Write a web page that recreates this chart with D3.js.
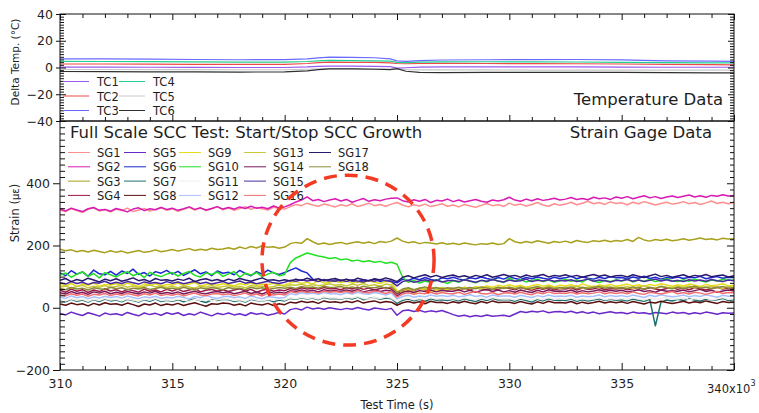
<!DOCTYPE html>
<html><head><meta charset="utf-8">
<script src="https://cdn.jsdelivr.net/npm/d3@7"></script>
<style>
body{margin:0;background:#fff}
svg{display:block}
text{font-family:"DejaVu Sans",sans-serif;fill:#1e1e1e}
</style>
</head><body>
<svg id="c" width="759" height="413"></svg>
<script>
// ---------------- DATA ----------------
const time = [310,310.25,310.5,310.75,311,311.25,311.5,311.75,312,312.25,
  312.5,312.75,313,313.25,313.5,313.75,314,314.25,314.5,314.75,
  315,315.25,315.5,315.75,316,316.25,316.5,316.75,317,317.25,
  317.5,317.75,318,318.25,318.5,318.75,319,319.25,319.5,319.75,
  320,320.25,320.5,320.75,321,321.25,321.5,321.75,322,322.25,
  322.5,322.75,323,323.25,323.5,323.75,324,324.25,324.5,324.75,
  325,325.25,325.5,325.75,326,326.25,326.5,326.75,327,327.25,
  327.5,327.75,328,328.25,328.5,328.75,329,329.25,329.5,329.75,
  330,330.25,330.5,330.75,331,331.25,331.5,331.75,332,332.25,
  332.5,332.75,333,333.25,333.5,333.75,334,334.25,334.5,334.75,
  335,335.25,335.5,335.75,336,336.25,336.5,336.75,337,337.25,
  337.5,337.75,338,338.25,338.5,338.75,339,339.25,339.5,339.75,
  340];

const sgNames = ["SG1","SG2","SG3","SG4","SG5","SG6","SG7","SG8","SG9","SG10","SG11","SG12","SG13","SG14","SG15","SG16","SG17","SG18"];
const sgColors = ["#ff8f8f","#d81ab4","#a8a01c","#9a1848","#6a28c8","#1a28d0","#1f6f6f","#5a1010","#e6dc1e","#22e022","#f2eee8","#a8c0ff","#c8c838","#7a1a5a","#4a2a9a","#f07070","#28186e","#8a8a3a"];

const sg1 = [314,309,318,312,306,316,321,311,315,308,
  317,312,320,309,314,319,311,316,322,313,
  318,310,316,323,314,320,312,318,324,315,
  321,313,319,325,316,322,318,314,323,319,
  317,325,332,328,336,330,326,333,329,324,
  331,327,334,325,330,336,328,332,326,333,
  338,330,324,331,327,333,325,329,334,326,
  330,324,332,327,323,329,335,328,331,326,
  336,329,333,327,332,338,330,326,334,329,
  333,339,331,336,342,334,338,332,340,335,
  337,331,339,334,341,336,330,335,339,333,
  336,341,334,338,332,337,343,335,339,334,
  338];
const sg2 = [317,311,320,314,309,318,322,313,316,310,
  319,314,308,317,321,312,318,315,322,316,
  320,313,318,324,316,321,314,319,325,317,
  322,317,324,319,326,320,323,318,327,321,
  324,331,340,346,356,344,348,341,346,350,
  343,348,339,345,351,342,347,344,349,352,
  353,344,340,347,342,348,338,345,343,349,
  341,346,340,344,348,342,339,346,343,347,
  355,346,342,349,344,350,345,348,352,346,
  349,354,348,351,347,355,350,353,348,356,
  352,357,350,355,360,353,357,351,356,359,
  354,358,362,356,360,355,361,358,363,359,
  361];
const sg3 = [188,183,186,180,184,179,185,181,177,183,
  178,182,176,180,184,178,181,186,180,183,
  187,182,186,190,184,188,185,191,187,189,
  193,188,195,190,197,192,199,194,196,191,
  195,206,210,207,222,212,204,208,203,207,
  210,205,209,212,207,211,206,213,210,214,
  224,214,209,212,206,210,208,205,209,204,
  207,203,208,205,202,206,204,208,203,206,
  222,212,208,213,209,215,211,207,213,210,
  214,209,216,212,210,215,213,217,212,216,
  214,219,213,226,218,214,219,216,220,215,
  218,222,217,220,224,219,222,218,223,221,
  222];
const sg4 = [56,50,60,53,58,49,57,52,61,54,
  58,51,59,55,50,60,53,57,51,59,
  54,60,52,57,62,51,56,59,53,58,
  52,57,61,54,59,50,56,60,53,57,
  55,62,58,64,60,63,59,65,61,62,
  58,64,60,66,59,63,57,62,65,60,
  45,56,60,55,62,58,64,59,63,57,
  61,56,63,58,65,60,57,62,59,64,
  62,58,65,60,56,63,59,64,58,62,
  60,64,57,63,59,61,65,58,62,60,
  63,58,61,66,59,64,60,57,62,65,
  59,63,58,64,61,57,62,66,60,63,
  61];
const sg5 = [-18,-23,-14,-20,-25,-16,-21,-27,-17,-22,
  -19,-24,-15,-21,-26,-17,-22,-18,-24,-16,
  -21,-16,-25,-19,-23,-14,-20,-26,-18,-22,
  -17,-23,-19,-25,-16,-21,-18,-24,-20,-15,
  -20,-6,-2,-7,2,-4,-1,-5,0,-3,
  -6,-2,-5,1,-4,-7,-1,-3,-6,-2,
  -24,-10,-7,-12,-8,-14,-10,-13,-9,-15,
  -22,-27,-24,-29,-25,-28,-23,-27,-26,-24,
  -28,-20,-12,-15,-11,-14,-10,-16,-13,-12,
  -15,-11,-17,-13,-18,-14,-19,-16,-13,-17,
  -15,-19,-14,-18,-16,-20,-15,-17,-19,-14,
  -18,-15,-20,-16,-19,-14,-17,-21,-16,-18,
  -17];
const sg6 = [112,103,119,108,115,101,121,109,106,117,
  105,118,110,124,107,113,102,116,111,120,
  108,117,104,113,122,109,115,103,118,111,
  114,106,120,110,103,116,108,121,112,107,
  113,121,128,118,112,92,86,90,84,89,
  85,91,87,83,90,86,92,84,88,85,
  80,92,88,95,90,97,91,87,96,93,
  98,92,89,96,93,99,94,90,97,92,
  100,94,91,97,93,99,95,92,98,94,
  96,101,93,99,95,92,98,94,100,96,
  97,93,99,95,101,94,98,92,97,95,
  99,94,98,96,101,93,97,100,95,98,
  97];
const sg7 = [24,19,27,21,25,18,26,20,28,22,
  25,19,27,23,18,26,21,28,20,24,
  21,26,19,24,28,22,17,25,23,27,
  26,20,24,18,27,23,21,26,19,25,
  22,30,27,32,28,31,26,33,29,30,
  27,32,28,34,26,30,33,27,31,29,
  14,24,28,22,27,20,29,24,26,23,
  27,22,29,24,20,28,23,30,25,26,
  26,21,28,23,18,27,22,29,24,25,
  23,28,21,26,22,25,29,23,27,24,
  26,22,28,24,21,27,-58,18,25,22,
  27,23,29,25,21,28,24,26,30,23,
  26];
const sg8 = [12,8,15,10,13,6,14,9,16,11,
  13,8,15,10,4,12,9,15,7,12,
  9,14,7,12,16,10,5,13,11,15,
  14,8,12,6,15,11,9,14,7,13,
  10,18,15,21,17,20,14,22,18,19,
  16,21,17,23,15,19,22,16,20,18,
  8,16,20,15,19,13,21,17,18,14,
  19,15,21,16,13,20,15,22,17,18,
  18,14,20,15,12,19,14,21,16,17,
  15,20,13,18,14,17,21,15,19,16,
  19,14,20,16,12,18,15,21,17,14,
  17,21,15,19,16,22,18,14,20,17,
  18];
const sg9 = [74,70,78,68,76,72,80,69,75,73,
  77,71,79,74,68,76,72,78,70,75,
  73,79,71,76,81,70,74,78,72,77,
  75,70,78,73,80,71,76,74,79,72,
  73,80,84,78,82,76,88,79,83,85,
  81,86,79,84,80,87,82,78,85,83,
  55,50,58,46,55,62,52,58,54,60,
  62,57,66,61,68,64,70,66,72,68,
  74,68,72,66,71,75,69,73,67,72,
  70,74,68,76,71,67,73,70,75,69,
  72,76,70,74,68,75,71,77,73,69,
  74,70,76,72,68,75,71,73,77,70,
  72];
const sg10 = [104,112,98,108,115,101,110,96,113,106,
  99,109,116,103,111,97,114,105,100,108,
  113,102,110,117,104,99,112,107,115,101,
  109,116,98,111,105,113,100,108,114,103,
  107,145,160,168,176,171,166,163,158,161,
  154,157,150,153,148,151,146,149,143,146,
  140,98,82,88,79,86,81,90,84,78,
  87,82,91,85,80,88,83,92,86,81,
  96,85,90,83,88,92,84,89,82,87,
  91,85,89,83,93,86,81,88,84,90,
  86,92,83,89,85,91,84,88,93,86,
  84,90,85,92,87,83,89,86,91,88,
  89];
const sg11 = [26,22,29,24,27,21,28,23,30,25,
  27,22,29,25,21,28,24,30,23,26,
  23,28,25,20,27,24,30,22,26,29,
  28,23,26,21,29,25,22,27,24,28,
  25,32,29,34,30,33,28,35,31,32,
  29,34,31,36,30,28,33,30,35,31,
  20,28,31,26,30,27,32,28,30,27,
  30,26,32,28,25,31,27,33,29,28,
  29,25,31,27,24,30,26,32,27,29,
  27,31,25,29,26,28,32,26,30,27,
  30,26,32,28,25,31,27,29,33,28,
  28,32,26,30,27,31,25,29,33,27,
  29];
const sg12 = [34,30,38,32,36,29,35,31,37,33,
  36,31,38,33,29,35,32,37,30,34,
  31,37,33,28,36,32,39,34,30,35,
  37,32,35,30,38,33,29,36,34,31,
  33,46,42,48,44,47,43,49,45,46,
  42,48,44,50,45,43,49,46,41,47,
  28,36,40,34,38,35,41,37,39,36,
  40,35,38,42,36,39,34,41,37,38,
  38,34,40,36,33,39,35,41,36,38,
  36,40,34,38,35,37,41,35,39,36,
  39,35,41,37,33,40,36,42,38,35,
  37,41,35,39,36,42,38,34,40,37,
  38];
const sg13 = [66,70,63,68,72,64,69,66,71,65,
  68,72,66,70,64,69,73,67,70,65,
  69,64,71,67,63,70,66,72,65,68,
  71,66,69,64,72,67,70,65,68,73,
  68,74,72,76,70,75,71,73,77,72,
  75,70,76,72,78,71,74,69,76,73,
  50,58,62,56,64,60,66,62,65,61,
  63,59,66,61,64,60,67,62,65,63,
  66,62,68,64,60,67,63,69,65,62,
  67,64,70,63,66,69,64,68,65,67,
  64,68,62,67,70,65,63,69,66,64,
  68,65,70,63,67,64,69,66,62,68,
  66];
const sg14 = [48,44,52,46,50,43,51,47,53,45,
  50,46,52,48,44,51,47,53,45,49,
  46,51,44,49,53,47,45,50,52,48,
  51,45,49,53,46,50,44,52,47,50,
  47,55,52,57,53,56,51,58,54,55,
  52,57,53,59,51,55,58,52,56,54,
  38,50,54,49,55,52,57,51,56,53,
  53,58,51,56,50,55,59,52,57,51,
  55,50,57,52,49,56,51,58,53,54,
  52,57,50,55,51,54,58,52,56,53,
  56,51,54,58,52,55,50,57,53,55,
  53,57,51,55,59,52,56,50,54,57,
  54];
const sg15 = [80,76,84,78,82,75,81,79,85,77,
  82,78,84,80,76,83,79,81,77,84,
  79,83,77,81,85,78,82,76,80,84,
  78,82,86,79,83,77,81,85,80,78,
  82,88,85,90,86,89,84,91,87,85,
  89,84,90,86,83,88,85,91,87,84,
  70,84,88,82,86,90,85,89,83,87,
  88,84,90,86,82,88,85,91,86,83,
  89,85,87,92,84,88,86,90,85,88,
  86,90,84,88,92,85,89,87,83,88,
  87,91,85,89,84,88,92,86,90,85,
  88,84,90,86,89,85,91,87,84,89,
  87];
const sg16 = [42,38,45,40,44,37,43,41,46,39,
  44,40,46,42,38,45,41,47,39,43,
  40,45,38,43,47,41,39,44,46,42,
  45,39,43,47,40,44,38,46,41,44,
  41,52,48,53,49,51,47,54,50,52,
  49,53,47,55,50,48,54,51,46,52,
  34,44,48,43,47,45,50,44,49,46,
  45,50,43,48,52,46,44,49,42,47,
  48,44,50,45,42,49,45,51,46,47,
  46,50,44,48,45,47,51,45,49,46,
  49,45,51,46,43,50,47,44,48,52,
  45,49,44,50,47,43,48,52,46,49,
  48];
const sg17 = [88,94,84,91,86,95,89,83,92,87,
  93,85,90,96,87,91,84,94,88,90,
  86,92,88,95,84,90,93,87,91,85,
  92,87,94,89,85,91,96,88,90,86,
  90,86,92,88,95,89,93,87,91,94,
  88,92,86,95,90,87,93,89,96,91,
  84,98,103,96,101,106,99,104,97,102,
  105,99,103,97,104,100,106,98,102,107,
  101,104,98,105,100,103,107,99,104,101,
  106,100,104,98,103,107,101,105,99,103,
  104,99,106,101,97,103,108,100,104,98,
  102,106,99,104,101,107,100,103,105,99,
  103];
const sg18 = [62,58,65,60,63,57,64,61,59,66,
  61,64,58,63,60,65,59,62,66,60,
  63,59,66,61,57,64,60,65,62,58,
  65,60,63,58,66,61,64,59,62,65,
  63,66,62,68,64,67,63,69,65,66,
  68,63,67,62,69,65,64,68,63,67,
  48,60,64,58,63,67,61,65,59,64,
  62,66,60,65,61,67,63,59,66,62,
  66,61,65,60,64,68,62,66,61,65,
  63,67,61,66,62,65,68,63,66,62,
  65,61,67,63,60,66,62,68,64,61,
  66,62,65,69,63,67,61,65,68,63,
  65];
const sgValues = [sg1,sg2,sg3,sg4,sg5,sg6,sg7,sg8,sg9,sg10,sg11,sg12,sg13,sg14,sg15,sg16,sg17,sg18];

const tTime = [310,312,314,316,318,320,321,321.5,322,323,324,324.7,325,325.4,326,327,329,331,333,335,337,339,340];
const tcNames = ["TC1","TC2","TC3","TC4","TC5","TC6"];
const tcColors = ["#9b59f0","#f04848","#6a6aff","#20d090","#c8c8c8","#303030"];
const tc1 = [0.3,0.3,0.2,0.1,0.0,0.0,0.4,0.8,1.0,1.0,0.9,0.6,-0.5,-0.2,0.3,0.5,0.5,0.4,0.4,0.3,0.2,0.2,0.2];
const tc2 = [2.6,2.6,2.5,2.4,2.3,2.4,3.0,3.6,4.0,3.9,3.8,3.5,3.0,2.8,3.0,3.1,3.0,2.9,2.8,2.6,2.3,2.1,2.0];
const tc3 = [6.5,6.4,6.2,6.0,5.8,5.9,6.5,7.2,7.8,7.6,7.3,6.5,5.0,4.6,5.2,5.6,5.8,5.9,6.0,5.7,5.0,4.7,4.6];
const tc4 = [4.6,4.5,4.4,4.2,4.0,4.0,4.5,5.0,5.3,5.2,5.0,4.8,3.8,3.6,4.0,4.2,4.3,4.2,4.1,3.9,3.6,3.5,3.5];
const tc5 = [-1.5,-1.5,-1.6,-1.6,-1.7,-1.7,-1.3,-1.0,-0.8,-0.9,-1.0,-1.2,-1.0,-1.6,-1.8,-1.8,-1.8,-1.9,-1.9,-2.0,-2.0,-2.0,-2.0];
const tc6 = [-3.0,-3.1,-3.2,-3.3,-3.4,-3.3,-2.5,-1.6,-1.0,-1.1,-1.3,-1.6,-0.8,-2.8,-3.6,-3.8,-3.7,-3.6,-3.6,-3.7,-3.9,-4.0,-4.0];
const tcValues = [tc1,tc2,tc3,tc4,tc5,tc6];

const xTicks = [310,315,320,325,330,335,340];
const tempTicks = [-40,-20,0,20,40];
const strainTicks = [-200,0,200,400];
// annotation ellipse (time, strain, half-width in s*1e3, half-height in strain)
const ring = {t:322.82, s:153, rt:3.83, rs:273};

// ---------------- LAYOUT ----------------
const FONT = '"DejaVu Sans",sans-serif';
const svg = d3.select("#c");
const L = 60, R = 734, T1 = 14, B1 = 121, B2 = 370;
const x = d3.scaleLinear().domain([310,340]).range([L,R]);
const yT = d3.scaleLinear().domain([-40,40]).range([B1,T1]);
const yS = d3.scaleLinear().domain([-200,600]).range([B2,B1]);

svg.append("rect").attr("width",759).attr("height",413).attr("fill","#fff");

const defs = svg.append("defs");
defs.append("clipPath").attr("id","clipT").append("rect").attr("x",L).attr("y",T1).attr("width",R-L).attr("height",B1-T1);
defs.append("clipPath").attr("id","clipS").append("rect").attr("x",L).attr("y",B1).attr("width",R-L).attr("height",B2-B1);

// temperature lines
const lineT = d3.line().x((d,i)=>x(tTime[i])).y(d=>yT(d));
const gT = svg.append("g").attr("clip-path","url(#clipT)");
[4,0,1,3,2,5].forEach(k=>{
  gT.append("path").attr("d",lineT(tcValues[k])).attr("fill","none")
    .attr("stroke",tcColors[k]).attr("stroke-width",1.2);
});

// strain lines
const lineS = d3.line().x((d,i)=>x(time[i])).y(d=>yS(d));
const gS = svg.append("g").attr("clip-path","url(#clipS)");
sgValues.forEach((vals,k)=>{
  gS.append("path").attr("d",lineS(vals)).attr("fill","none")
    .attr("stroke",sgColors[k]).attr("stroke-width",1.5).attr("stroke-linejoin","round");
});

// axes
function styleAxis(g){ g.select(".domain").remove(); g.selectAll("line").attr("stroke","#111").attr("stroke-width",1); g.selectAll("text").attr("font-size",12.5).attr("fill","#1e1e1e").attr("font-family",FONT); }
const minorX = d3.range(310,341,1).filter(v=>v%5!==0);

svg.append("g").attr("transform",`translate(0,${B2})`)
  .call(d3.axisBottom(x).tickValues(xTicks.slice(0,-1)).tickSize(-7).tickPadding(9).tickFormat(d3.format("d"))).call(styleAxis);
svg.append("g").attr("transform",`translate(0,${B2})`)
  .call(d3.axisBottom(x).tickValues([340]).tickSize(-7).tickFormat("")).call(styleAxis);
svg.append("g").attr("transform",`translate(0,${B2})`)
  .call(d3.axisBottom(x).tickValues(minorX).tickSize(-4).tickFormat("")).call(styleAxis);
const lab340 = svg.append("text").attr("x",x(340)-27).attr("y",393).attr("font-size",11.5);
lab340.append("tspan").text(xTicks[6]+"x10");
lab340.append("tspan").attr("font-size",8).attr("dy",-7).text("3");

[[T1,"axisTop"],[B1,"axisBottom"]].forEach(([yy,fn])=>{
  svg.append("g").attr("transform",`translate(0,${yy})`)
    .call(d3[fn](x).tickValues(xTicks).tickSize(-6).tickFormat("")).call(styleAxis);
  svg.append("g").attr("transform",`translate(0,${yy})`)
    .call(d3[fn](x).tickValues(minorX).tickSize(-4).tickFormat("")).call(styleAxis);
});

const minorT = d3.range(-40,41,2).filter(v=>v%20!==0);
const minorS = d3.range(-200,600,20).filter(v=>v%200!==0);
svg.append("g").attr("transform",`translate(${L},0)`)
  .call(d3.axisLeft(yT).tickValues(tempTicks).tickSize(4).tickPadding(3)).call(styleAxis);
svg.append("g").attr("transform",`translate(${L},0)`)
  .call(d3.axisLeft(yT).tickValues(tempTicks).tickSize(-6).tickFormat("")).call(styleAxis);
svg.append("g").attr("transform",`translate(${L},0)`)
  .call(d3.axisLeft(yT).tickValues(minorT).tickSize(-4).tickFormat("")).call(styleAxis);
svg.append("g").attr("transform",`translate(${L},0)`)
  .call(d3.axisLeft(yS).tickValues(strainTicks).tickSize(7).tickPadding(3)).call(styleAxis);
svg.append("g").attr("transform",`translate(${L},0)`)
  .call(d3.axisLeft(yS).tickValues(minorS).tickSize(-5).tickFormat("")).call(styleAxis);
svg.append("g").attr("transform",`translate(${R},0)`)
  .call(d3.axisRight(yT).tickValues(tempTicks).tickSize(-6).tickFormat("")).call(styleAxis);
svg.append("g").attr("transform",`translate(${R},0)`)
  .call(d3.axisRight(yT).tickValues(minorT).tickSize(-4).tickFormat("")).call(styleAxis);
svg.append("g").attr("transform",`translate(${R},0)`)
  .call(d3.axisRight(yS).tickValues(strainTicks).tickSize(-7).tickFormat("")).call(styleAxis);
svg.append("g").attr("transform",`translate(${R},0)`)
  .call(d3.axisRight(yS).tickValues(minorS).tickSize(-4).tickFormat("")).call(styleAxis);

svg.append("rect").attr("x",L).attr("y",T1).attr("width",R-L).attr("height",B1-T1).attr("fill","none").attr("stroke","#111");
svg.append("rect").attr("x",L).attr("y",B1).attr("width",R-L).attr("height",B2-B1).attr("fill","none").attr("stroke","#111");

// axis titles
svg.append("text").attr("transform","translate(19,62) rotate(-90)").attr("text-anchor","middle").attr("font-size",10.5).text("Delta Temp. (°C)");
const st = svg.append("text").attr("transform","translate(19,213) rotate(-90)").attr("text-anchor","middle").attr("font-size",11.5);
st.append("tspan").text("Strain (");
st.append("tspan").attr("font-size",10).text("µε");
st.append("tspan").text(")");
svg.append("text").attr("x",397).attr("y",409).attr("text-anchor","middle").attr("font-size",11.5).text("Test Time (s)");

// panel texts
svg.append("text").attr("x",723).attr("y",105).attr("text-anchor","end").attr("font-size",16.5).text("Temperature Data");
svg.append("text").attr("x",712).attr("y",138).attr("text-anchor","end").attr("font-size",16.5).text("Strain Gage Data");
svg.append("text").attr("x",70).attr("y",138).attr("font-size",16.5).text("Full Scale SCC Test: Start/Stop SCC Growth");

// TC legend
const tcCols = [97,153];
tcNames.forEach((n,k)=>{
  const c = Math.floor(k/3), r = k%3;
  const tx = tcCols[c], by = 86 + 14.5*r;
  svg.append("line").attr("x1",tx-34).attr("x2",tx-8).attr("y1",by-4.5).attr("y2",by-4.5).attr("stroke",tcColors[k]).attr("stroke-width",1);
  svg.append("text").attr("x",tx).attr("y",by).attr("font-size",11.5).text(n);
});

// SG legend
const sgCols = [97,153,208,273,338];
sgNames.forEach((n,k)=>{
  const c = Math.floor(k/4), r = k%4;
  const tx = sgCols[c], by = 157 + 14.3*r;
  svg.append("line").attr("x1",tx-29).attr("x2",tx-7).attr("y1",by-4.5).attr("y2",by-4.5).attr("stroke",sgColors[k]).attr("stroke-width",1);
  svg.append("text").attr("x",tx).attr("y",by).attr("font-size",11.5).text(n);
});

// dashed annotation ring
svg.append("ellipse").attr("cx",x(ring.t)).attr("cy",yS(ring.s))
  .attr("rx",x(ring.t+ring.rt)-x(ring.t)).attr("ry",yS(ring.s)-yS(ring.s+ring.rs))
  .attr("fill","none").attr("stroke","#f23a24").attr("stroke-width",3.5).attr("stroke-dasharray","13,8");
</script>
</body></html>
